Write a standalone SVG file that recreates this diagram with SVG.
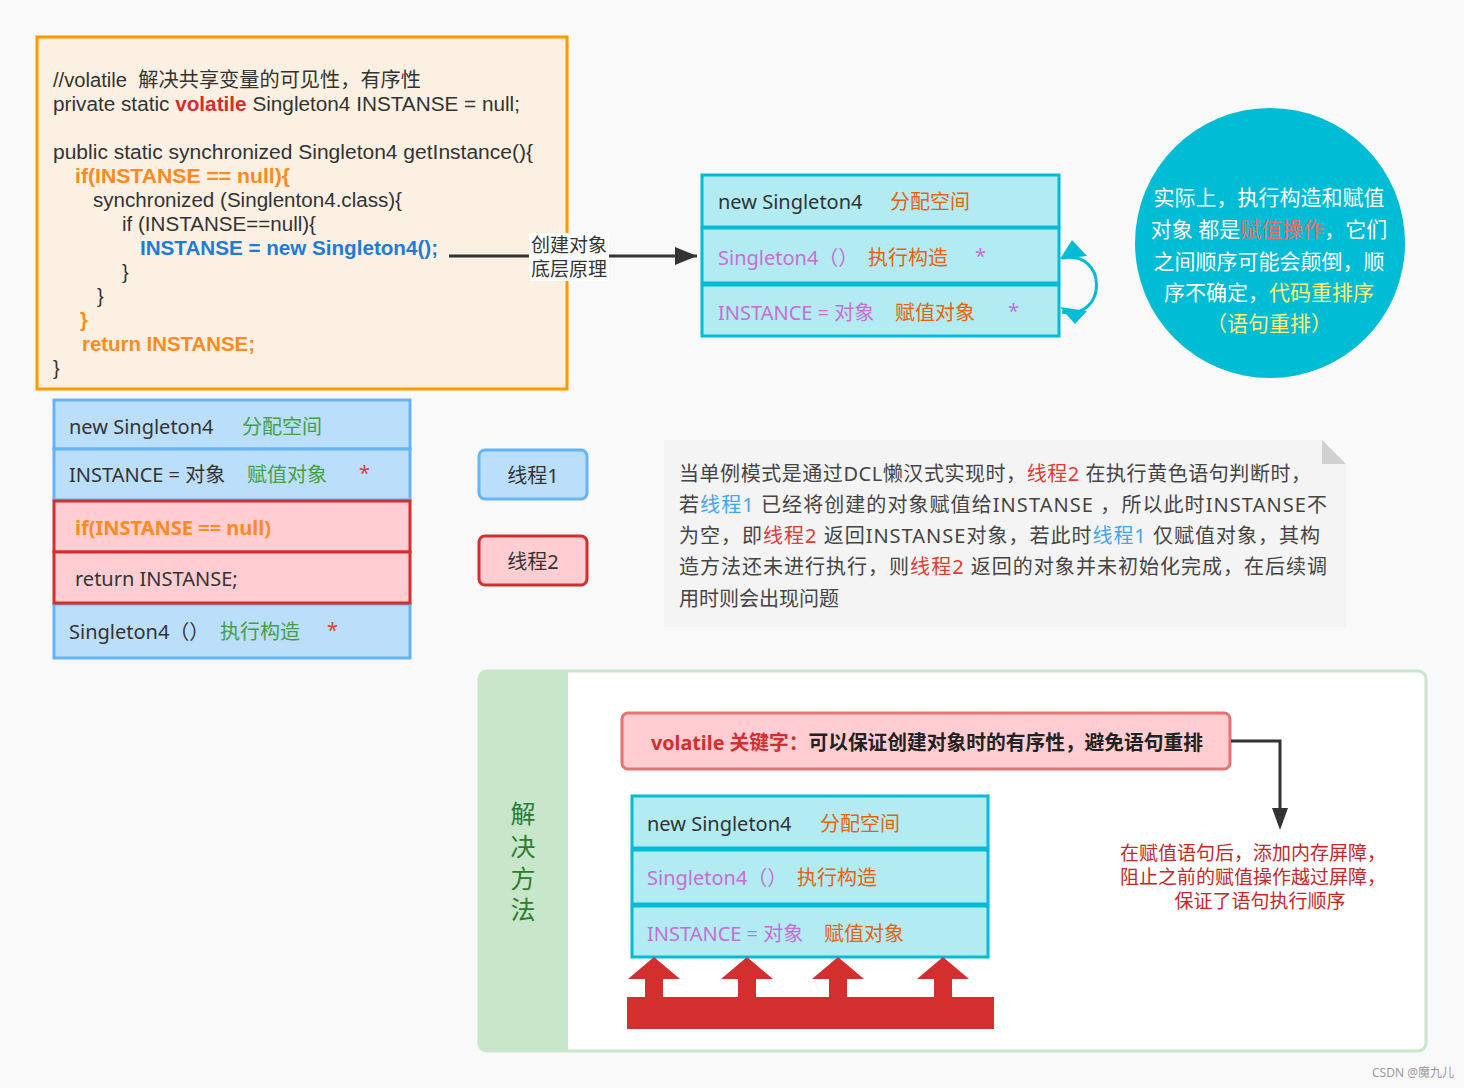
<svg xmlns="http://www.w3.org/2000/svg" width="1464" height="1088" viewBox="0 0 1464 1088">
<style>
text{font-family:"Noto Sans","Noto Sans CJK SC",sans-serif;dominant-baseline:central;}
.code{font-family:"Liberation Sans","Noto Sans CJK SC",sans-serif;font-size:20px;fill:#333;}
.t{font-size:20px;fill:#333;}
.b{font-weight:bold;}
.or{fill:#ff8a1e;}
.bl{fill:#1e7bd8;}
.rd{fill:#d82c2c;}
.cy{fill:#b2ebf2;stroke:#00bcd4;stroke-width:3;}
.lb{fill:#bbdefb;stroke:#64b5f6;stroke-width:3;}
.pk{fill:#ffcdd2;stroke:#d32f2f;stroke-width:3;}
.pu{fill:#c86dd7;}
.oo{fill:#e8620c;}
.gr{fill:#43a047;}
.sr{fill:#e53935;}
.sb{fill:#42a5f5;}
.note{font-size:20px;fill:#444;}
.circ{font-size:21px;fill:#fff;}
.yl{fill:#fff176;}
</style>
<rect width="1464" height="1088" fill="#f9f9f9"/>

<g id="code-box">
<rect x="37" y="37" width="530" height="352" fill="#fbf0e2" stroke="#ff9900" stroke-width="3"/>
<text class="code" x="53" y="80" xml:space="preserve" textLength="368" lengthAdjust="spacingAndGlyphs">//volatile  解决共享变量的可见性，有序性</text>
<text class="code" x="53" y="104" textLength="467" lengthAdjust="spacingAndGlyphs">private static <tspan class="b rd">volatile</tspan> Singleton4 INSTANSE = null;</text>
<text class="code" x="53" y="152" textLength="480" lengthAdjust="spacingAndGlyphs">public static synchronized Singleton4 getInstance(){</text>
<text class="code b or" x="75" y="176" textLength="215" lengthAdjust="spacingAndGlyphs">if(INSTANSE == null){</text>
<text class="code" x="93" y="200" textLength="309" lengthAdjust="spacingAndGlyphs">synchronized (Singlenton4.class){</text>
<text class="code" x="122" y="224" textLength="194" lengthAdjust="spacingAndGlyphs">if (INSTANSE==null){</text>
<text class="code b bl" x="140" y="248" textLength="298" lengthAdjust="spacingAndGlyphs">INSTANSE = new Singleton4();</text>
<text class="code" x="122" y="272">}</text>
<text class="code" x="97" y="296">}</text>
<text class="code b or" x="80" y="320">}</text>
<text class="code b or" x="82" y="344" textLength="173" lengthAdjust="spacingAndGlyphs">return INSTANSE;</text>
<text class="code" x="53" y="368">}</text>
</g>

<g id="arrow-label">
<rect x="529" y="233" width="80" height="48" fill="#fff"/>
<text x="569" y="245" text-anchor="middle" style="font-size:19px;fill:#333">创建对象</text>
<text x="569" y="269" text-anchor="middle" style="font-size:19px;fill:#333">底层原理</text>
</g>

<g id="top-stack">
<rect class="cy" x="702" y="175" width="357" height="52"/>
<rect class="cy" x="702" y="228" width="357" height="55"/>
<rect class="cy" x="702" y="285" width="357" height="51"/>
<text class="t" x="718" y="201">new Singleton4</text>
<text class="t oo" x="890" y="201">分配空间</text>
<text class="t pu" x="718" y="257">Singleton4（）</text>
<text class="t oo" x="868" y="257">执行构造</text>
<text class="t pu" x="975" y="255">*</text>
<text class="t pu" x="718" y="312">INSTANCE = 对象</text>
<text class="t oo" x="895" y="312">赋值对象</text>
<text class="t pu" x="1008" y="310">*</text>
</g>

<g id="circle-note">
<circle cx="1270" cy="243" r="135" fill="#00bcd4"/>
<text class="circ" x="1269" y="197" text-anchor="middle">实际上，执行构造和赋值</text>
<text class="circ" x="1269" y="229" text-anchor="middle">对象 都是<tspan fill="#ef6c6c">赋值操作</tspan>，它们</text>
<text class="circ" x="1269" y="261" text-anchor="middle">之间顺序可能会颠倒，顺</text>
<text class="circ" x="1269" y="292" text-anchor="middle">序不确定，<tspan class="yl">代码重排序</tspan></text>
<text class="circ yl" x="1269" y="323" text-anchor="middle">（语句重排）</text>
</g>

<g id="left-stack">
<rect class="lb" x="54" y="400" width="356" height="49"/>
<rect class="lb" x="54" y="449" width="356" height="51"/>
<rect class="lb" x="54" y="604" width="356" height="54"/>
<rect class="pk" x="54" y="501" width="356" height="51"/>
<rect class="pk" x="54" y="552" width="356" height="51"/>
<text class="t" x="69" y="426">new Singleton4</text>
<text class="t gr" x="242" y="426">分配空间</text>
<text class="t" x="69" y="474">INSTANCE = 对象</text>
<text class="t gr" x="247" y="474">赋值对象</text>
<text class="t sr" x="359" y="472">*</text>
<text class="t b or" x="75" y="527">if(INSTANSE == null)</text>
<text class="t" x="75" y="578">return INSTANSE;</text>
<text class="t" x="69" y="631">Singleton4（）</text>
<text class="t gr" x="220" y="631">执行构造</text>
<text class="t sr" x="327" y="629">*</text>
</g>

<g id="thread1">
<rect x="479" y="450" width="108" height="49" rx="6" fill="#bbdefb" stroke="#64b5f6" stroke-width="3"/>
<text class="t" x="533" y="475" text-anchor="middle">线程1</text>
</g>
<g id="thread2">
<rect x="479" y="536" width="108" height="49" rx="6" fill="#ffcdd2" stroke="#d32f2f" stroke-width="3"/>
<text class="t" x="533" y="561" text-anchor="middle">线程2</text>
</g>

<g id="explain-note">
<path d="M664,440 L1322,440 L1346,464 L1346,627 L664,627 z" fill="#f4f4f4"/>
<path d="M1322,440 L1346,464 L1322,464 z" fill="#d0d0d0"/>
<text class="note" x="679" y="473" textLength="632" lengthAdjust="spacing">当单例模式是通过DCL懒汉式实现时，<tspan class="sr">线程2</tspan> 在执行黄色语句判断时，</text>
<text class="note" x="679" y="504" textLength="648" lengthAdjust="spacing">若<tspan class="sb">线程1</tspan> 已经将创建的对象赋值给INSTANSE ，所以此时INSTANSE不</text>
<text class="note" x="679" y="535" textLength="641" lengthAdjust="spacing">为空，即<tspan class="sr">线程2</tspan> 返回INSTANSE对象，若此时<tspan class="sb">线程1</tspan> 仅赋值对象，其构</text>
<text class="note" x="679" y="566" textLength="648" lengthAdjust="spacing">造方法还未进行执行，则<tspan class="sr">线程2</tspan> 返回的对象并未初始化完成，在后续调</text>
<text class="note" x="679" y="598">用时则会出现问题</text>
</g>

<g id="solution">
<rect x="479" y="671" width="947" height="380" rx="8" fill="#fff" stroke="#c8e6c9" stroke-width="3"/>
<path d="M487,671 L568,671 L568,1051 L487,1051 Q479,1051 479,1043 L479,679 Q479,671 487,671 z" fill="#c8e6c9"/>
<text x="523" y="813" text-anchor="middle" style="font-size:25px;fill:#2e7d32">解</text>
<text x="523" y="846" text-anchor="middle" style="font-size:25px;fill:#2e7d32">决</text>
<text x="523" y="878" text-anchor="middle" style="font-size:25px;fill:#2e7d32">方</text>
<text x="523" y="909" text-anchor="middle" style="font-size:25px;fill:#2e7d32">法</text>
</g>

<g id="volatile-box">
<rect x="622" y="713" width="608" height="56" rx="6" fill="#ffcdd2" stroke="#e57373" stroke-width="3"/>
<text x="651" y="742" textLength="552" lengthAdjust="spacingAndGlyphs" style="font-size:20px;font-weight:bold;fill:#222"><tspan fill="#d32f2f">volatile 关键字：</tspan>可以保证创建对象时的有序性，避免语句重排</text>
</g>

<g id="barrier-note">
<text x="1253" y="853" text-anchor="middle" style="font-size:19px;fill:#c62828">在赋值语句后，添加内存屏障，</text>
<text x="1253" y="877" text-anchor="middle" style="font-size:19px;fill:#c62828">阻止之前的赋值操作越过屏障，</text>
<text x="1260" y="901" text-anchor="middle" style="font-size:19px;fill:#c62828">保证了语句执行顺序</text>
</g>

<g id="bottom-stack">
<rect class="cy" x="632" y="796" width="356" height="52"/>
<rect class="cy" x="632" y="850" width="356" height="54"/>
<rect class="cy" x="632" y="906" width="356" height="51"/>
<text class="t" x="647" y="823">new Singleton4</text>
<text class="t oo" x="820" y="823">分配空间</text>
<text class="t pu" x="647" y="877">Singleton4（）</text>
<text class="t oo" x="797" y="877">执行构造</text>
<text class="t pu" x="647" y="933">INSTANCE = 对象</text>
<text class="t oo" x="824" y="933">赋值对象</text>
</g>

<g id="memory-barrier" fill="#d32f2f">
<rect x="627" y="997" width="367" height="32"/>
<path d="M654,957 L680,979 L663,979 L663,997 L645,997 L645,979 L628,979 z"/>
<path d="M747,957 L773,979 L756,979 L756,997 L738,997 L738,979 L721,979 z"/>
<path d="M838,957 L864,979 L847,979 L847,997 L829,997 L829,979 L812,979 z"/>
<path d="M943,957 L969,979 L952,979 L952,997 L934,997 L934,979 L917,979 z"/>
</g>

<g id="connectors">
<path d="M449,256 L529,256 M609,256 L697,256" stroke="#333" stroke-width="3" fill="none"/>
<path d="M675,247 L697,256 L675,265 z" fill="#333"/>
<path d="M1062,258 C1108,249 1108,321 1062,312" stroke="#00bcd4" stroke-width="3" fill="none"/>
<path d="M1072,240 L1087,256 L1060,259 z" fill="#00bcd4"/>
<path d="M1075,324 L1087,311 L1060,307 z" fill="#00bcd4"/>
<path d="M1231,741 L1280,741 L1280,810" stroke="#333" stroke-width="3" fill="none"/>
<path d="M1272,808 L1280,830 L1288,808 z" fill="#333"/>
</g>

<text x="1372" y="1072" style="font-size:12px;fill:#999">CSDN @魔九儿</text>
</svg>
